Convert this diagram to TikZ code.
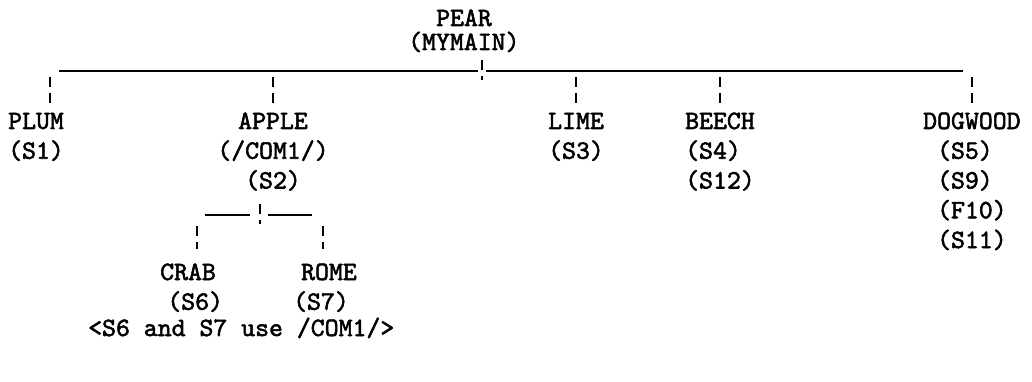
\documentclass[tikz,border=0pt]{standalone}
\usepackage{fontspec}
\newfontfamily\tyfam{lmmono10-regular.otf}[FakeBold=2]
\newcommand\tyfont{\tyfam\fontsize{26.5}{29.75}\selectfont}
\begin{document}
\begin{tikzpicture}[x=1pt,y=-1pt,
  lbl/.style={font=\tyfont, inner sep=0pt, anchor=base west, align=left},
  tick/.style={line width=1.2pt, dash pattern=on 10pt off 6pt},
  bus/.style={line width=1.5pt}]
\useasboundingbox (0,0) rectangle (1032,382);
% root (anchor base = baseline of last line)
\node[lbl] (pear) at (436,26) {PEAR};
\node[lbl] (mymain) at (408,50) {(MYMAIN)};
% children: first baseline 129, line step 29.75
\node[lbl] (plum) at (8,158.75) {PLUM\\(S1)};
\node[lbl, align=center, anchor=base] (apple) at (273,188.5) {APPLE\\(/COM1/)\\(S2)};
\node[lbl] (lime) at (548,158.75) {LIME\\(S3)};
\node[lbl] (beech) at (685,188.5) {BEECH\\(S4)\\(S12)};
\node[lbl] (dogwood) at (923,248) {DOGWOOD\\\phantom{D}(S5)\\\phantom{D}(S9)\\\phantom{D}(F10)\\\phantom{D}(S11)};
% grandchildren
\node[lbl] (crab) at (160,309.75) {CRAB\\\hspace*{0.27em}(S6)};
\node[lbl] (rome) at (293,309.75) {\hspace*{0.3em}ROME\\(S7)};
\node[lbl] (note) at (88,336) {<S6 and S7 use /COM1/>};
% bus
\coordinate (busL) at (59,71);
\coordinate (busR) at (963,71);
\coordinate (rootT) at (482,60);
\coordinate (rootB) at (482,80);
\draw[tick] (rootT) -- (rootB);
\draw[bus] (busL) -- (478,71);
\draw[bus] (486,71) -- (busR);
% child ticks
\foreach \n/\x in {plum/50, apple/273, lime/576, beech/720, dogwood/972}{
  \coordinate (\n top) at (\x,77);
  \coordinate (\n bot) at (\x,104);
  \draw[tick] (\n top) -- (\n bot);
}
% apple subtree
\coordinate (subT) at (260,204);
\coordinate (subB) at (260,224);
\draw[tick] (subT) -- (subB);
\coordinate (subL) at (205,215);
\coordinate (subR) at (312,215);
\draw[bus] (subL) -- (250,215);
\draw[bus] (268,215) -- (subR);
\coordinate (crabT) at (197,226);
\coordinate (crabB) at (197,249);
\coordinate (romeT) at (323,226);
\coordinate (romeB) at (323,249);
\draw[tick] (crabT) -- (crabB);
\draw[tick] (romeT) -- (romeB);
\end{tikzpicture}
\end{document}
